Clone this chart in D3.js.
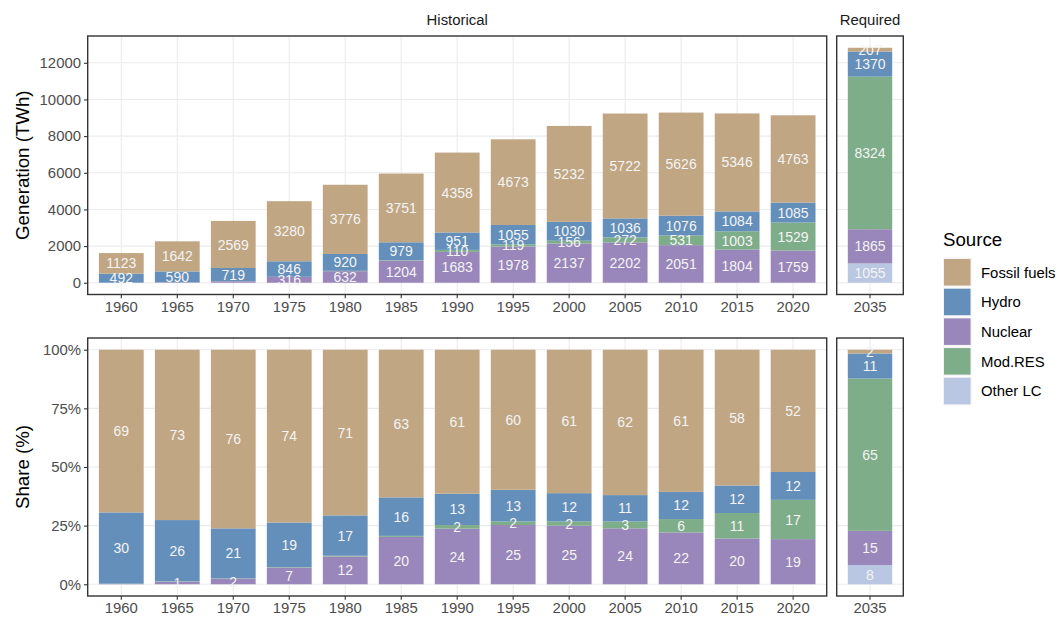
<!DOCTYPE html>
<html>
<head>
<meta charset="utf-8">
<script src="https://cdn.jsdelivr.net/npm/d3@7"></script>
<style>
  html, body { margin: 0; padding: 0; background: #fff; }
  svg { display: block; font-family: "Liberation Sans", Arial, Helvetica, sans-serif; }
</style>
</head>
<body>
<svg id="chart" width="1059" height="617"></svg>
<script>
// ---------------- DATA ----------------
const years      = ["1960","1965","1970","1975","1980","1985","1990","1995","2000","2005","2010","2015","2020","2035"];
const panelOf    = ["Historical","Historical","Historical","Historical","Historical","Historical","Historical","Historical","Historical","Historical","Historical","Historical","Historical","Required"];
const fossil     = [1123, 1642, 2569, 3280, 3776, 3751, 4358, 4673, 5232, 5722, 5626, 5346, 4763, 207];
const hydro      = [ 492,  590,  719,  846,  920,  979,  951, 1055, 1030, 1036, 1076, 1084, 1085, 1370];
const nuclear    = [   3,   25,   79,  316,  632, 1204, 1683, 1978, 2137, 2202, 2051, 1804, 1759, 1865];
const modRES     = [   1,    4,    6,    9,   18,   25,  110,  119,  156,  272,  531, 1003, 1529, 8324];
const otherLC    = [   0,    0,    0,    0,    0,    0,    0,    0,    0,    0,    0,    0,    0, 1055];
const sources    = ["Fossil fuels","Hydro","Nuclear","Mod.RES","Other LC"];   // legend order
const stackOrder = ["Other LC","Nuclear","Mod.RES","Hydro","Fossil fuels"];   // bottom -> top
const colors     = ["#C1A683","#638FBA","#9986BA","#7EAD8A","#BAC7E2"];
const genTicks   = [0, 2000, 4000, 6000, 8000, 10000, 12000];
const shareTicks = [0, 0.25, 0.5, 0.75, 1];
const panels     = ["Historical","Required"];

// ---------------- BUILD ----------------
const seriesVals = {"Fossil fuels": fossil, "Hydro": hydro, "Nuclear": nuclear, "Mod.RES": modRES, "Other LC": otherLC};
const rows = years.map((y, i) => {
  const r = {year: y, panel: panelOf[i]};
  sources.forEach(s => r[s] = seriesVals[s][i]);
  r.total = sources.reduce((a, s) => a + r[s], 0);
  return r;
});
const shareRows = rows.map(r => {
  const o = {year: r.year, panel: r.panel};
  sources.forEach(s => o[s] = r[s] / r.total);
  return o;
});
const color = d3.scaleOrdinal().domain(sources).range(colors);

const svg = d3.select("#chart");
const font = "'Liberation Sans', Arial, Helvetica, sans-serif";

const colX = {Historical: [87.7, 826.7], Required: [836.7, 903.3]};
const rowY = {gen: [36, 294.5], share: [338, 596]};

const maxTotal = d3.max(rows, r => r.total);
const yGen = d3.scaleLinear().domain([-0.05 * maxTotal, 1.05 * maxTotal]).range([rowY.gen[1], rowY.gen[0]]);
const yShare = d3.scaleLinear().domain([-0.05, 1.05]).range([rowY.share[1], rowY.share[0]]);

const stack = d3.stack().keys(stackOrder);

function drawPanel(rowKey, panelName, data, y, ticks, labelFn) {
  const [x0, x1] = colX[panelName];
  const [y0, y1] = rowY[rowKey];
  const pdata = data.filter(d => d.panel === panelName);
  const x = d3.scaleBand().domain(pdata.map(d => d.year)).range([x0, x1]).paddingInner(0.2).paddingOuter(0.2);
  const g = svg.append("g");

  // grid
  g.selectAll("line.hg").data(ticks).join("line")
    .attr("x1", x0).attr("x2", x1).attr("y1", d => y(d)).attr("y2", d => y(d))
    .attr("stroke", "#EBEBEB").attr("stroke-width", 1.1);
  g.selectAll("line.vg").data(pdata).join("line")
    .attr("x1", d => x(d.year) + x.bandwidth() / 2).attr("x2", d => x(d.year) + x.bandwidth() / 2)
    .attr("y1", y0).attr("y2", y1)
    .attr("stroke", "#EBEBEB").attr("stroke-width", 1.1);

  // bars
  const st = stack(pdata);
  const layers = g.selectAll("g.layer").data(st).join("g").attr("fill", d => color(d.key));
  layers.selectAll("rect").data(d => d.map(v => ({v, key: d.key}))).join("rect")
    .attr("x", d => x(d.v.data.year))
    .attr("width", x.bandwidth())
    .attr("y", d => y(d.v[1]))
    .attr("height", d => Math.max(0, y(d.v[0]) - y(d.v[1])));

  // labels
  const labels = [];
  st.forEach(layer => layer.forEach(v => {
    const val = v.data[layer.key];
    const txt = labelFn(val);
    if (txt !== null) labels.push({x: x(v.data.year) + x.bandwidth() / 2, y: y((v[0] + v[1]) / 2), txt});
  }));
  g.selectAll("text.lab").data(labels).join("text")
    .attr("x", d => d.x).attr("y", d => d.y).attr("dy", "0.36em")
    .attr("text-anchor", "middle").attr("fill", "#F4F4F4")
    .attr("font-size", "14px").attr("font-family", font)
    .text(d => d.txt);

  // border
  g.append("rect").attr("x", x0).attr("y", y0).attr("width", x1 - x0).attr("height", y1 - y0)
    .attr("fill", "none").attr("stroke", "#333333").attr("stroke-width", 1.4);

  // x axis
  const ax = svg.append("g").attr("transform", `translate(0,${y1})`)
    .call(d3.axisBottom(x).tickSize(3.7).tickPadding(3));
  ax.select(".domain").remove();
  ax.selectAll(".tick line").attr("stroke", "#333333").attr("stroke-width", 1.1);
  ax.selectAll(".tick text").attr("fill", "#4D4D4D").attr("font-size", "14.9px").attr("font-family", font);
  return x;
}

function drawYAxis(rowKey, y, ticks, fmt) {
  const x0 = colX.Historical[0];
  const ay = svg.append("g").attr("transform", `translate(${x0},0)`)
    .call(d3.axisLeft(y).tickValues(ticks).tickFormat(fmt).tickSize(3.7).tickPadding(3));
  ay.select(".domain").remove();
  ay.selectAll(".tick line").attr("stroke", "#333333").attr("stroke-width", 1.1);
  ay.selectAll(".tick text").attr("fill", "#4D4D4D").attr("font-size", "14.9px").attr("font-family", font);
}

panels.forEach(p => {
  drawPanel("gen", p, rows, yGen, genTicks, v => v >= 100 ? String(v) : null);
  drawPanel("share", p, shareRows, yShare, shareTicks, v => Math.round(v * 100) >= 1 ? String(Math.round(v * 100)) : null);
});
drawYAxis("gen", yGen, genTicks, d3.format("d"));
drawYAxis("share", yShare, shareTicks, d => Math.round(d * 100) + "%");

// strip labels
panels.forEach(p => {
  const [x0, x1] = colX[p];
  svg.append("text").attr("x", (x0 + x1) / 2).attr("y", 20).attr("dy", "0.36em")
    .attr("text-anchor", "middle").attr("font-size", "14.9px").attr("fill", "#1A1A1A")
    .attr("font-family", font).text(p);
});

// y titles
[["gen", "Generation (TWh)"], ["share", "Share (%)"]].forEach(([k, t]) => {
  const cy = (rowY[k][0] + rowY[k][1]) / 2;
  svg.append("text").attr("transform", `translate(22,${cy}) rotate(-90)`).attr("dy", "0.36em")
    .attr("text-anchor", "middle").attr("font-size", "18.7px").attr("fill", "#000")
    .attr("font-family", font).text(t);
});

// legend
const lg = svg.append("g").attr("transform", "translate(943,0)");
lg.append("text").attr("x", 0).attr("y", 239).attr("dy", "0.36em")
  .attr("font-size", "18.7px").attr("font-family", font).attr("fill", "#000").text("Source");
const items = lg.selectAll("g.item").data(sources).join("g")
  .attr("transform", (d, i) => `translate(0,${258 + i * 29.7})`);
items.append("rect").attr("x", 0).attr("y", 0).attr("width", 28.5).attr("height", 28.5).attr("fill", "#F2F2F2");
items.append("rect").attr("x", 1).attr("y", 1).attr("width", 26.5).attr("height", 26.5).attr("fill", d => color(d));
items.append("text").attr("x", 38).attr("y", 14.3).attr("dy", "0.36em")
  .attr("font-size", "14.9px").attr("font-family", font).attr("fill", "#000").text(d => d);
</script>
</body>
</html>
